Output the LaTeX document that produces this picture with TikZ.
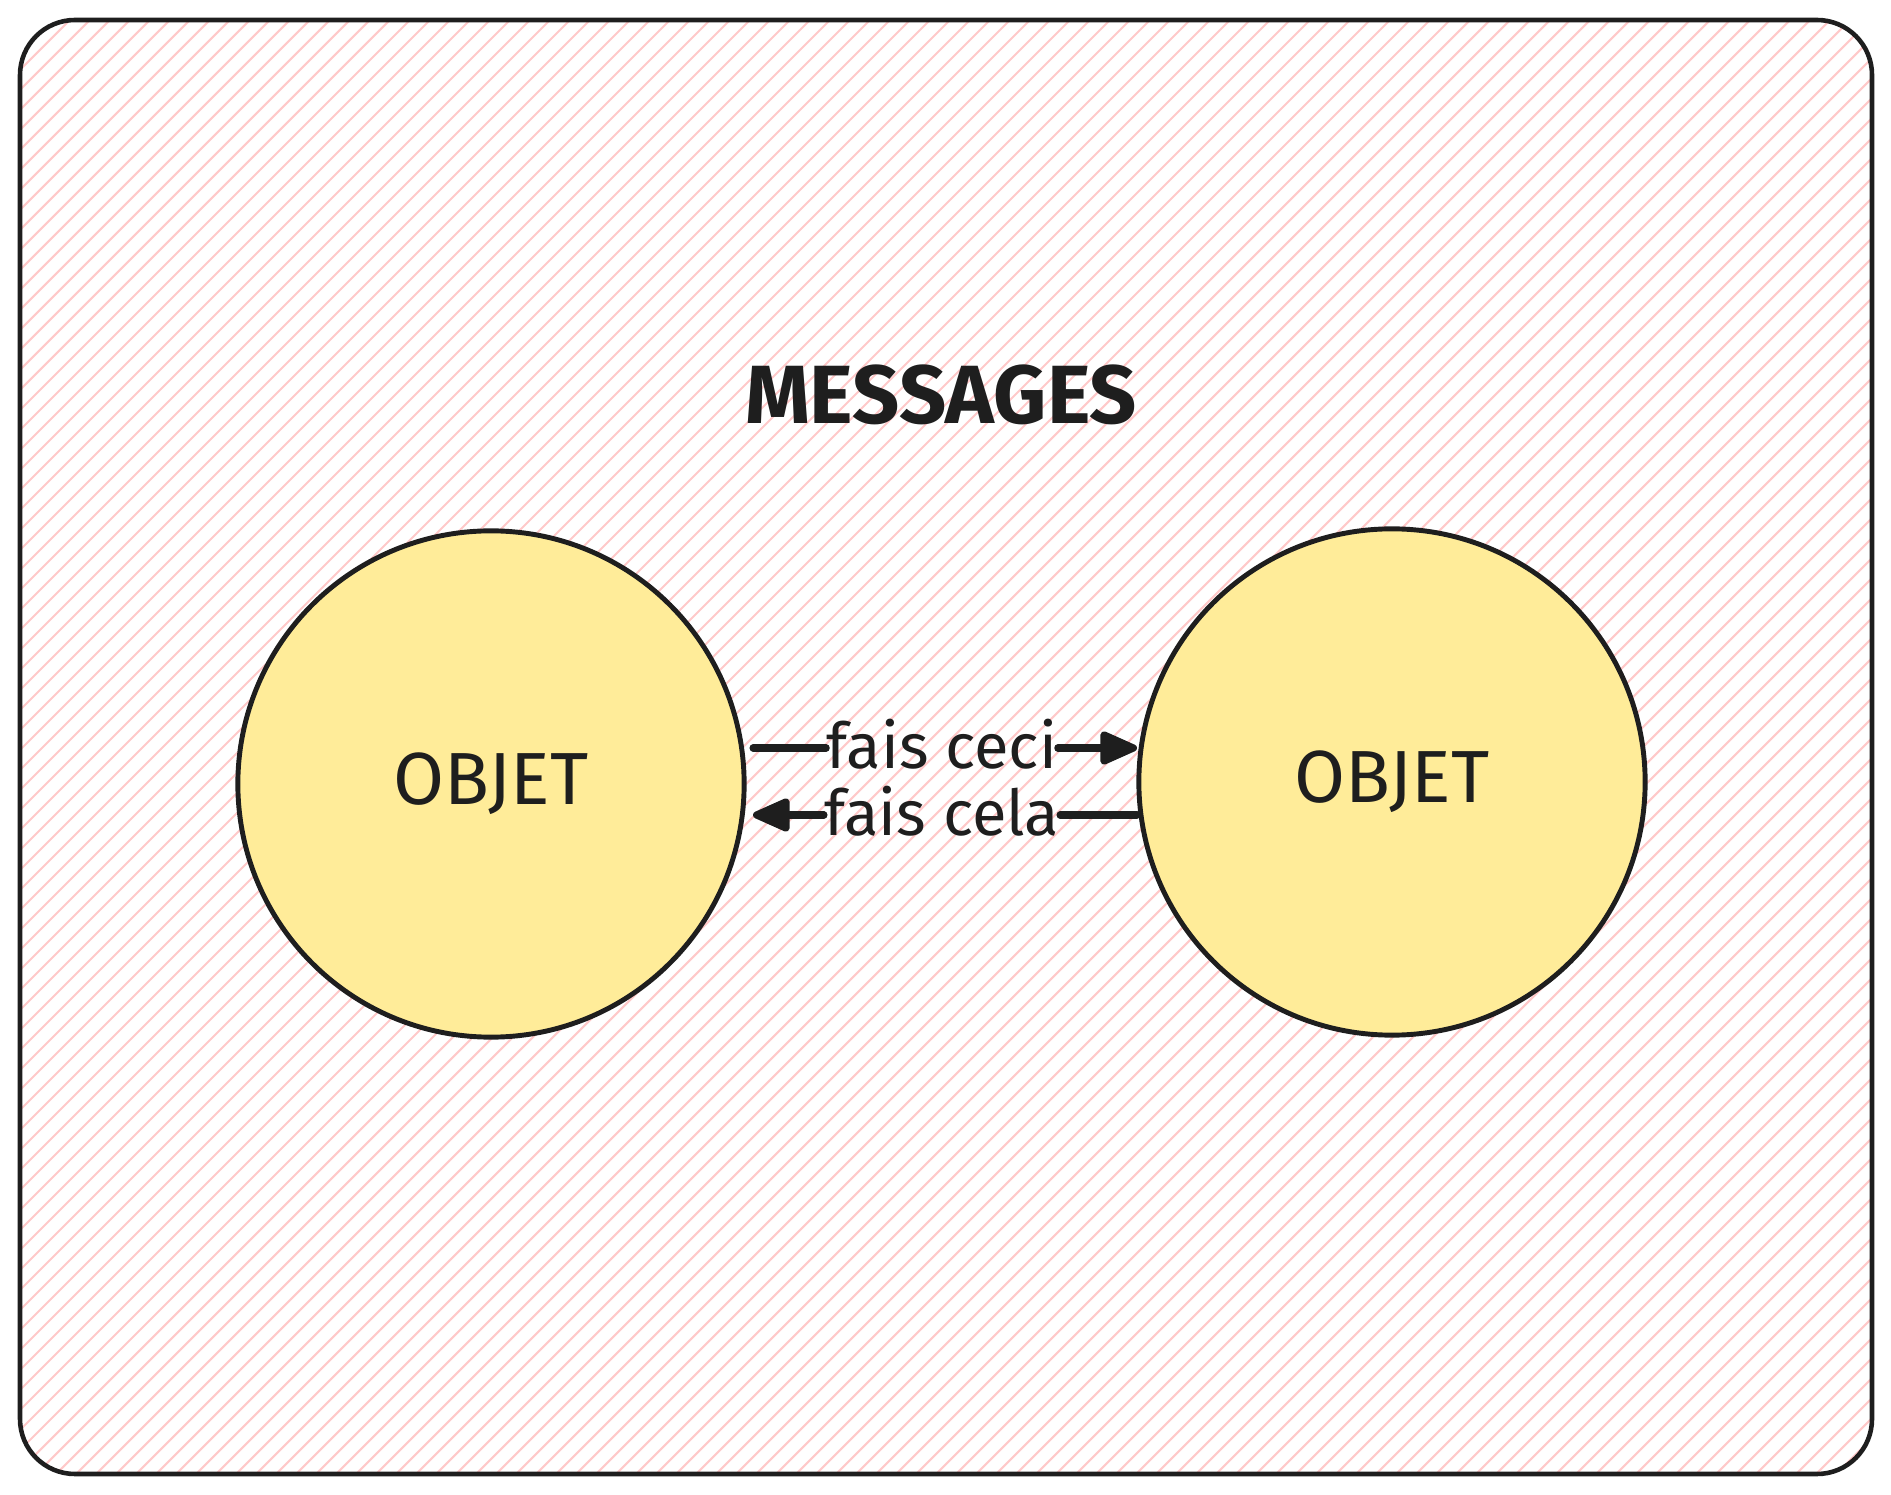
\documentclass[tikz,border=0pt]{standalone}
\usepackage{fontspec}
\setmainfont{Fira Sans}
\usetikzlibrary{arrows.meta}
\definecolor{ink}{HTML}{1E1E1E}
\definecolor{hatchpink}{HTML}{FFC9C9}
\definecolor{objyellow}{HTML}{FFEC99}
\tikzset{
  hatchline/.style={draw=hatchpink, line width=0.6pt},
  framebox/.style={draw=ink, line width=1.3pt, rounded corners=0.55cm},
  objnode/.style={circle, draw=ink, fill=objyellow, line width=1.4pt, minimum size=5.06cm,
    font=\fontsize{21}{25}\selectfont, text=ink},
  titlenode/.style={font=\fontsize{23.5}{28}\selectfont\bfseries, text=ink},
  msglabel/.style={font=\fontsize{18}{21}\selectfont, text=ink, inner sep=0pt, minimum width=2.3cm},
  conn/.style={draw=ink, line width=2pt, line cap=round},
  tip/.style={-{Triangle[length=12pt,width=10pt,round]}}
}
\begin{document}
\begin{tikzpicture}[x=0.01cm,y=-0.01cm]
\useasboundingbox (0,0) rectangle (1891,1495);
\begin{scope}
  \clip[rounded corners=0.55cm] (20,20) rectangle (1872,1474);
  \foreach \c in {30,50,...,3370} \draw[hatchline] (\c,0) -- (\c-1500,1500);
\end{scope}
\draw[framebox] (20,20) rectangle (1872,1474);

\node[titlenode] (title) at (941,395) {MESSAGES};

\node[objnode] (o1) at (491,784) {OBJET};
\node[objnode] (o2) at (1392,782) {OBJET};

\node[msglabel] (l1) at (942,744) {fais ceci};
\node[msglabel] (l2) at (942,811) {fais cela};

\coordinate (a1) at (753,748);
\coordinate (b1) at (1137,748);
\coordinate (a2) at (1137,815);
\coordinate (b2) at (753,815);

\draw[conn] (a1) -- (l1.west |- a1);
\draw[conn,tip] (l1.east |- b1) -- (b1);
\draw[conn] (a2) -- (l2.east |- a2);
\draw[conn,tip] (l2.west |- b2) -- (b2);
\end{tikzpicture}
\end{document}
